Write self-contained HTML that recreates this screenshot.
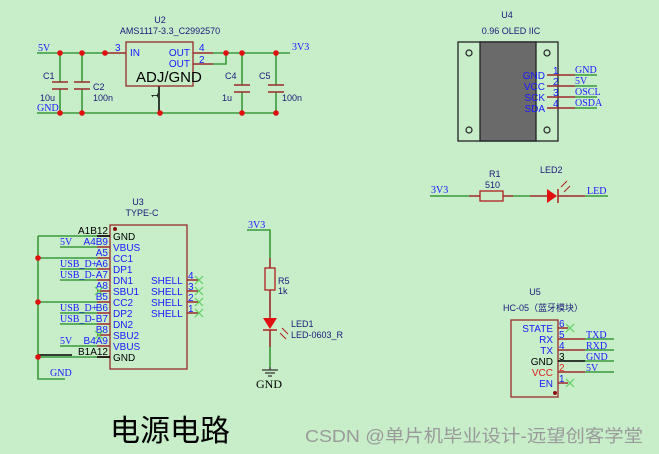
<!DOCTYPE html>
<html><head><meta charset="utf-8"><style>
html,body{margin:0;padding:0;background:#c7edc9;}
svg{display:block;font-family:"Liberation Sans","Noto Sans CJK SC",sans-serif;}
.g{stroke:#3a9a3a;stroke-width:1.6;fill:none}
.r{stroke:#9b2a2a;stroke-width:1.6;fill:none}
.k{stroke:#000;stroke-width:1.5;fill:none}
.b{fill:#1a1aff;font-size:10px}
.d{fill:#1a1a7a;font-size:9px}
.n{fill:#1a1aff;font-size:10px;font-family:"Liberation Serif",serif}
.x{stroke:#5ccf5c;stroke-width:1.2}
</style></head><body>
<svg width="659" height="454" viewBox="0 0 659 454">
<rect width="659" height="454" fill="#c7edc9"/>
<!-- U2 section -->
<text x="160" y="23" class="d" text-anchor="middle">U2</text>
<text x="170" y="34" class="d" text-anchor="middle">AMS1117-3.3_C2992570</text>
<path class="g" d="M37 53H104 M37 113H276 M60 53V82 M60 89V113 M82 53V82 M82 89V113 M213 53H290 M213 64H226V53 M242 53V85 M242 92V113 M276 53V85 M276 92V113"/>
<path class="r" d="M104 53H126 M193 53H213 M193 64H213"/>
<path class="k" d="M159 86V113"/>
<path class="r" d="M52 82H68 M52 89H68 M74 82H90 M74 89H90 M234 85H250 M234 92H250 M268 85H284 M268 92H284"/>
<rect x="126" y="42" width="67" height="44" fill="none" stroke="#9b2a2a" stroke-width="1.3"/>
<text x="130" y="56" class="b">IN</text>
<text x="190" y="56" class="b" text-anchor="end">OUT</text>
<text x="190" y="67" class="b" text-anchor="end">OUT</text>
<text x="136" y="82" font-size="15" fill="#000">ADJ/GND</text>
<text x="115" y="51" class="b">3</text><text x="199" y="51" class="b">4</text><text x="199" y="63" class="b">2</text>
<text x="158" y="98" font-size="9" fill="#000" transform="rotate(-90 158 98)">1</text>
<g fill="#e01010"><circle cx="60" cy="53" r="2.8"/><circle cx="82" cy="53" r="2.8"/><circle cx="105" cy="53" r="2.8"/><circle cx="226" cy="53" r="2.8"/><circle cx="242" cy="53" r="2.8"/><circle cx="276" cy="53" r="2.8"/><circle cx="60" cy="113" r="2.8"/><circle cx="82" cy="113" r="2.8"/><circle cx="160" cy="113" r="2.8"/><circle cx="242" cy="113" r="2.8"/><circle cx="276" cy="113" r="2.8"/></g>
<text x="38" y="51" class="n">5V</text><text x="37" y="111" class="n">GND</text><text x="292" y="50" class="n">3V3</text>
<text x="43" y="79" class="d">C1</text><text x="40" y="101" class="d">10u</text>
<text x="93" y="90" class="d">C2</text><text x="93" y="101" class="d">100n</text>
<text x="225" y="79" class="d">C4</text><text x="222" y="101" class="d">1u</text>
<text x="259" y="79" class="d">C5</text><text x="282" y="101" class="d">100n</text>
<!-- U4 OLED -->
<text x="507" y="18" class="d" text-anchor="middle">U4</text>
<text x="511" y="34" class="d" text-anchor="middle">0.96 OLED IIC</text>
<rect x="458" y="42" width="100" height="99" fill="#c7edc9" stroke="#222" stroke-width="1.3"/>
<rect x="480" y="42" width="56" height="99" fill="#6a6a6a" stroke="#222" stroke-width="1.3"/>
<g fill="none" stroke="#222" stroke-width="1.2"><circle cx="469" cy="53" r="3"/><circle cx="547" cy="53" r="3"/><circle cx="469" cy="130" r="3"/><circle cx="547" cy="130" r="3"/></g>
<path class="r" d="M547 75H575 M547 86H575 M547 97H575 M547 108H575"/>
<path class="g" d="M575 75H597 M575 86H597 M575 97H597 M575 108H597"/>
<g class="b" text-anchor="end"><text x="545" y="79">GND</text><text x="545" y="90">VCC</text><text x="545" y="101">SCK</text><text x="545" y="112">SDA</text></g>
<g class="b"><text x="553" y="74">1</text><text x="553" y="85">2</text><text x="553" y="96">3</text><text x="553" y="107">4</text></g>
<g class="n"><text x="575" y="73">GND</text><text x="575" y="84">5V</text><text x="575" y="95">OSCL</text><text x="575" y="106">OSDA</text></g>
<!-- R1 LED2 -->
<path class="g" d="M430 196H469 M513 196H530 M585 196H608"/>
<path class="r" d="M469 196H480 M503 196H513 M530 196H547 M558 196H585"/>
<rect x="480" y="191" width="23" height="10" fill="none" stroke="#b02020" stroke-width="1.3"/>
<polygon points="547,189 547,203 557,196" fill="#e01010"/>
<path d="M558 189V203" stroke="#b02020" stroke-width="1.5"/>
<path d="M561 187l6-6 M564 192l6-6" stroke="#b02020" stroke-width="1"/>
<text x="489" y="177" class="d">R1</text><text x="485" y="188" class="d">510</text><text x="540" y="173" class="d">LED2</text>
<text x="431" y="193" class="n">3V3</text><text x="587" y="194" class="n">LED</text>
<!-- U3 TYPE-C -->
<text x="138" y="205" class="d" text-anchor="middle">U3</text>
<text x="142" y="216" class="d" text-anchor="middle">TYPE-C</text>
<rect x="110" y="225" width="77" height="144" fill="none" stroke="#9b2a2a" stroke-width="1.3"/>
<circle cx="115" cy="229" r="2" fill="#8a1010"/>
<path class="g" d="M38 236V379H65 M38 236H97 M60 247H97 M38 258H97 M60 269H97 M60 280H97 M38 302H97 M60 313H97 M60 324H97 M60 346H97 M38 357H97"/>
<path class="r" d="M97 236H110 M97 247H110 M97 258H110 M97 269H110 M97 280H110 M97 291H110 M97 302H110 M97 313H110 M97 324H110 M97 335H110 M97 346H110 M97 357H110 M187 280H198 M187 291H198 M187 302H198 M187 313H198"/>
<path class="k" d="M97 236H110 M97 357H110 M38 355H72"/>
<g fill="#e01010"><circle cx="38" cy="258" r="2.8"/><circle cx="38" cy="302" r="2.8"/><circle cx="38" cy="357" r="2.8"/></g>
<g class="b"><text x="113" y="240" fill="#000">GND</text><text x="113" y="251">VBUS</text><text x="113" y="262">CC1</text><text x="113" y="273">DP1</text><text x="113" y="284">DN1</text><text x="113" y="295">SBU1</text><text x="113" y="306">CC2</text><text x="113" y="317">DP2</text><text x="113" y="328">DN2</text><text x="113" y="339">SBU2</text><text x="113" y="350">VBUS</text><text x="113" y="361" fill="#000">GND</text>
<text x="151" y="284">SHELL</text><text x="151" y="295">SHELL</text><text x="151" y="306">SHELL</text><text x="151" y="317">SHELL</text></g>
<g class="b" font-size="9"><text x="188" y="279">4</text><text x="188" y="290">3</text><text x="188" y="301">2</text><text x="188" y="312">1</text></g>
<g class="b" text-anchor="end" font-size="9.5"><text x="108" y="234" fill="#000">A1B12</text><text x="108" y="245">A4B9</text><text x="108" y="256">A5</text><text x="108" y="267">A6</text><text x="108" y="278">A7</text><text x="108" y="289">A8</text><text x="108" y="300">B5</text><text x="108" y="311">B6</text><text x="108" y="322">B7</text><text x="108" y="333">B8</text><text x="108" y="344">B4A9</text><text x="108" y="355" fill="#000">B1A12</text></g>
<g class="n"><text x="60" y="245">5V</text><text x="60" y="267">USB_D+</text><text x="60" y="278">USB_D-</text><text x="60" y="311">USB_D+</text><text x="60" y="322">USB_D-</text><text x="60" y="344">5V</text><text x="50" y="376">GND</text></g>
<g class="x"><path d="M195 276l8 8M203 276l-8 8M195 287l8 8M203 287l-8 8M195 298l8 8M203 298l-8 8M195 309l8 8M203 309l-8 8M95 287l8 8M103 287l-8 8M95 331l8 8M103 331l-8 8"/></g>
<!-- R5 LED1 -->
<path class="g" d="M247 230H270V258 M270 347V367"/>
<path class="r" d="M270 258V268 M270 290V318 M270 330V347"/>
<rect x="265" y="268" width="10" height="22" fill="none" stroke="#b02020" stroke-width="1.3"/>
<polygon points="263,318 277,318 270,329" fill="#e01010"/>
<path d="M263 330H277" stroke="#b02020" stroke-width="1.5"/>
<path d="M280 333l6 6 M282 328l6 6" stroke="#b02020" stroke-width="1"/>
<path d="M270 367V370 M262 370H278 M265 373H275 M268 376H272" stroke="#333" stroke-width="1.3"/>
<text x="256" y="388" font-family="Liberation Serif,serif" font-size="12" fill="#000">GND</text>
<text x="248" y="228" class="n">3V3</text>
<text x="278" y="284" class="d">R5</text><text x="278" y="294" class="d">1k</text>
<text x="291" y="327" class="d">LED1</text><text x="291" y="338" class="d">LED-0603_R</text>
<!-- U5 -->
<text x="535" y="295" class="d" text-anchor="middle">U5</text>
<text x="543" y="311" class="d" text-anchor="middle">HC-05（蓝牙模块）</text>
<rect x="511" y="320" width="47" height="77" fill="none" stroke="#9b2a2a" stroke-width="1.3"/>
<circle cx="555" cy="393" r="2" fill="#8a1010"/>
<path class="r" d="M558 328H568 M558 339H585 M558 350H585 M558 372H585 M558 383H568"/>
<path class="k" d="M558 361H585"/>
<path class="g" d="M585 339H614 M585 350H614 M585 361H614 M585 372H614"/>
<g class="b" text-anchor="end"><text x="553" y="332">STATE</text><text x="553" y="343">RX</text><text x="553" y="354">TX</text><text x="553" y="365" fill="#000">GND</text><text x="553" y="376" fill="#e02020">VCC</text><text x="553" y="387">EN</text></g>
<g class="b" font-size="9"><text x="559" y="327">6</text><text x="559" y="338">5</text><text x="559" y="349">4</text><text x="559" y="360" fill="#000">3</text><text x="559" y="371" fill="#e02020">2</text><text x="559" y="382">1</text></g>
<g class="n"><text x="586" y="338">TXD</text><text x="586" y="349">RXD</text><text x="586" y="360">GND</text><text x="586" y="371">5V</text></g>
<g class="x"><path d="M566 324l8 8M574 324l-8 8M566 379l8 8M574 379l-8 8"/></g>
<!-- titles -->
<text x="110" y="441" font-size="30" fill="#000" font-family="Noto Sans CJK SC,sans-serif">电源电路</text>
<text x="305" y="442" font-size="17.5" fill="#9a9a9a" textLength="338" lengthAdjust="spacingAndGlyphs">CSDN @单片机毕业设计-远望创客学堂</text>
</svg>
</body></html>
